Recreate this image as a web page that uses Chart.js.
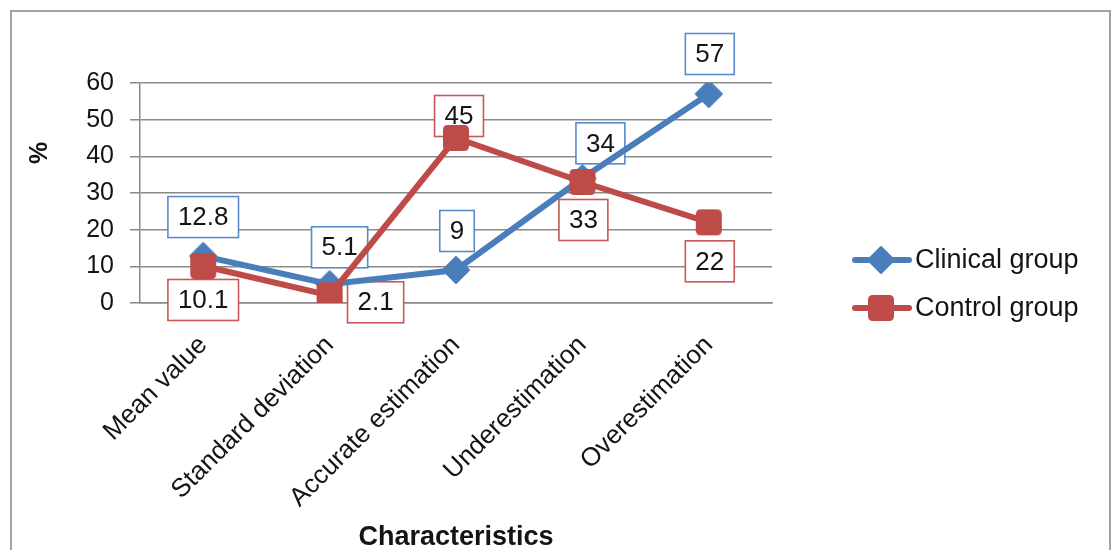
<!DOCTYPE html>
<html>
<head>
<meta charset="utf-8">
<script src="https://cdn.jsdelivr.net/npm/chart.js@4.4.1/dist/chart.umd.min.js"></script>
<style>
html,body{margin:0;padding:0;background:#fff;}
canvas{display:block;}
</style>
</head>
<body>
<canvas id="c" width="1114" height="550"></canvas>
<script>
// ---- data ----
const categories = ["Mean value", "Standard deviation", "Accurate estimation", "Underestimation", "Overestimation"];
const clinicalValues = [12.8, 5.1, 9, 34, 57];
const controlValues = [10.1, 2.1, 45, 33, 22];
const seriesNames = ["Clinical group", "Control group"];
const yTicks = [0, 10, 20, 30, 40, 50, 60];
const xTitle = "Characteristics";
const yTitle = "%";

// ---- styles ----
const FONT = '"Liberation Sans", Arial, sans-serif';
const BLUE = '#4A7EBB';
const RED = '#BE4B48';
const BLUE_BOX = '#5A8ACB';
const RED_BOX = '#C95754';

// label offsets (px) relative to each point
const labelOffsets = [
  [[0,-39],[10,-37],[1,-39],[18,-35],[1,-40]],
  [[0,34],[46,7],[3,-22],[1,38],[1,39]]
];

function makeDiamond(){
  const c = document.createElement('canvas'); c.width = 30; c.height = 30;
  const g = c.getContext('2d');
  g.fillStyle = BLUE; g.strokeStyle = BLUE; g.lineWidth = 2; g.lineJoin = 'round';
  g.beginPath(); g.moveTo(15,2); g.lineTo(28,15); g.lineTo(15,28); g.lineTo(2,15); g.closePath();
  g.fill(); g.stroke();
  return c;
}
function makeSquare(){
  const c = document.createElement('canvas'); c.width = 30; c.height = 30;
  const g = c.getContext('2d');
  g.fillStyle = RED;
  const x=2,y=2,w=26,h=26,r=5;
  g.beginPath();
  g.moveTo(x+r,y); g.lineTo(x+w-r,y); g.quadraticCurveTo(x+w,y,x+w,y+r);
  g.lineTo(x+w,y+h-r); g.quadraticCurveTo(x+w,y+h,x+w-r,y+h);
  g.lineTo(x+r,y+h); g.quadraticCurveTo(x,y+h,x,y+h-r);
  g.lineTo(x,y+r); g.quadraticCurveTo(x,y,x+r,y); g.closePath();
  g.fill();
  return c;
}
const diamond = makeDiamond();
const square = makeSquare();
const markers = [diamond, square];
const boxColors = [BLUE_BOX, RED_BOX];
const lineColors = [BLUE, RED];

const decor = {
  id: 'decor',
  beforeDraw(chart){
    const ctx = chart.ctx;
    ctx.save();
    ctx.strokeStyle = '#a3a3a3'; ctx.lineWidth = 2;
    ctx.strokeRect(11, 11, 1099, 620);
    ctx.restore();
  },
  beforeDatasetsDraw(chart){
    const ctx = chart.ctx;
    ctx.save();
    ctx.font = '26px ' + FONT;
    chart.data.datasets.forEach((ds, di) => {
      const meta = chart.getDatasetMeta(di);
      meta.data.forEach((pt, i) => {
        const [dx, dy] = labelOffsets[di][i];
        const txt = String(ds.data[i]);
        const tw = ctx.measureText(txt).width;
        const w = tw + 20, h = 41;
        const cx = pt.x + dx, cy = pt.y + dy;
        ctx.fillStyle = '#fff';
        ctx.fillRect(cx - w/2, cy - h/2, w, h);
        ctx.strokeStyle = boxColors[di]; ctx.lineWidth = 1.6;
        ctx.strokeRect(cx - w/2, cy - h/2, w, h);
      });
    });
    ctx.restore();
  },
  afterDatasetsDraw(chart){
    const ctx = chart.ctx;
    ctx.save();
    ctx.font = '26px ' + FONT;
    ctx.fillStyle = '#141414';
    ctx.textAlign = 'center'; ctx.textBaseline = 'middle';
    chart.data.datasets.forEach((ds, di) => {
      const meta = chart.getDatasetMeta(di);
      meta.data.forEach((pt, i) => {
        const [dx, dy] = labelOffsets[di][i];
        ctx.fillText(String(ds.data[i]), pt.x + dx, pt.y + dy + 1);
      });
    });
    ctx.restore();
  },
  afterDraw(chart){
    const ctx = chart.ctx;
    ctx.save();
    // y title
    ctx.font = 'bold 25px ' + FONT;
    ctx.fillStyle = '#141414';
    ctx.textAlign = 'center'; ctx.textBaseline = 'middle';
    ctx.translate(40, 153); ctx.rotate(-Math.PI/2);
    ctx.fillText(yTitle, 0, 0);
    ctx.restore();
    // legend
    ctx.save();
    const ys = [260, 308];
    seriesNames.forEach((name, i) => {
      const y = ys[i];
      ctx.strokeStyle = lineColors[i]; ctx.lineWidth = 6; ctx.lineCap = 'round';
      ctx.beginPath(); ctx.moveTo(855, y); ctx.lineTo(909, y); ctx.stroke();
      ctx.drawImage(markers[i], 881 - 15, y - 15);
      ctx.font = '27px ' + FONT;
      ctx.fillStyle = '#141414';
      ctx.textAlign = 'left'; ctx.textBaseline = 'middle';
      ctx.fillText(name, 915, y + 1);
    });
    ctx.restore();
  }
};

new Chart(document.getElementById('c'), {
  type: 'line',
  data: {
    labels: categories,
    datasets: [
      { label: seriesNames[0], data: clinicalValues, borderColor: BLUE, backgroundColor: BLUE,
        borderWidth: 6, tension: 0, pointStyle: diamond, pointRadius: 13, order: 1 },
      { label: seriesNames[1], data: controlValues, borderColor: RED, backgroundColor: RED,
        borderWidth: 6, tension: 0, pointStyle: square, pointRadius: 13, order: 0 }
    ]
  },
  options: {
    responsive: false,
    animation: false,
    devicePixelRatio: 1,
    layout: { padding: { top: 83, right: 342, bottom: 0, left: 0 } },
    plugins: { legend: { display: false }, tooltip: { enabled: false } },
    scales: {
      x: {
        offset: true,
        grid: { display: false },
        border: { display: true, color: '#8a8a8a', width: 1.5 },
        ticks: { minRotation: 45, maxRotation: 45, padding: 19, color: '#141414',
                 font: { family: FONT, size: 26 }, autoSkip: false },
        title: { display: true, text: xTitle, color: '#141414',
                 font: { family: FONT, size: 27, weight: 'bold', lineHeight: 0.9 }, padding: 0 },
        afterFit(scale){ scale.height = 247; }
      },
      y: {
        min: 0, max: 60,
        afterBuildTicks(scale){ scale.ticks = yTicks.map(v => ({ value: v })); },
        grid: { color: '#8a8a8a', lineWidth: 1.5, tickLength: 10 },
        border: { display: true, color: '#8a8a8a', width: 1.5 },
        ticks: { padding: 16, color: '#141414', font: { family: FONT, size: 25 } },
        afterFit(scale){ scale.width = 140; }
      }
    }
  },
  plugins: [decor]
});
</script>
</body>
</html>
